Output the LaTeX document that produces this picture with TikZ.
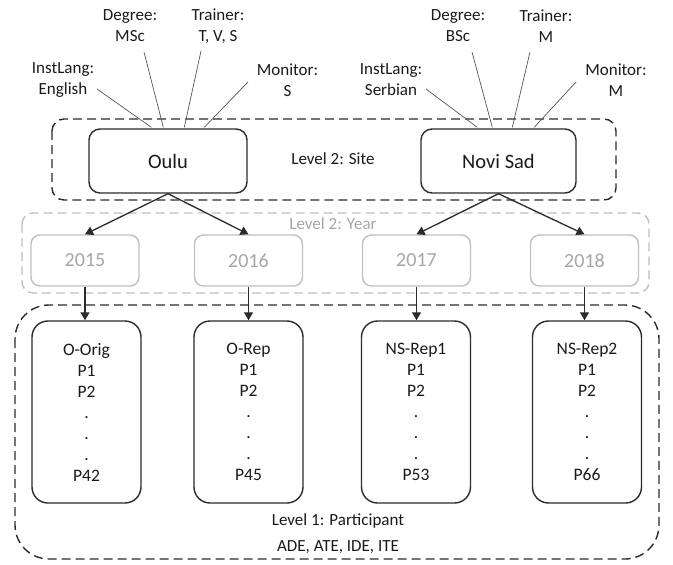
\documentclass[tikz,border=0pt]{standalone}
\usepackage{fontspec}
\setmainfont{Carlito}
\usetikzlibrary{arrows.meta,calc}
\definecolor{ink}{HTML}{2B2B2B}
\definecolor{txt}{HTML}{1A1A1A}
\definecolor{pale}{HTML}{BFBFBF}
\definecolor{paletext}{HTML}{A6A6A6}
\tikzset{
  lbl/.style={text=txt,align=center,font=\fontsize{17}{21}\selectfont,inner sep=0pt},
  sitebox/.style={draw=ink,line width=1.4pt,rounded corners=11pt,minimum height=64pt,
    text=txt,font=\fontsize{20.5}{24}\selectfont},
  yearbox/.style={draw=pale,line width=1.4pt,rounded corners=9pt,minimum width=108pt,
    minimum height=51pt,text=paletext,font=\fontsize{20}{24}\selectfont},
  partbox/.style={draw=ink,line width=1.4pt,rounded corners=16pt,minimum width=109pt,
    minimum height=182pt,text=txt,align=center,font=\fontsize{17.5}{21}\selectfont},
  group/.style={draw=ink,line width=1.4pt,dash pattern=on 9pt off 5pt},
  pgroup/.style={draw=pale,line width=1.4pt,dash pattern=on 9pt off 5pt},
  attr/.style={draw=ink!80,line width=0.7pt},
  flow/.style={draw=ink,line width=1.3pt,-{Triangle[length=8pt,width=9pt]}},
}
\begin{document}
\begin{tikzpicture}[x=1pt,y=-1pt]
\useasboundingbox (0,0) rectangle (673,565);

% group frames
\draw[group,rounded corners=12pt] (52,119) rectangle (616,200);
\draw[pgroup,rounded corners=11pt] (22,213) rectangle (649,293);
\draw[group,rounded corners=34pt] (15,305) rectangle (659,559);

% level 2: site
\node[sitebox,minimum width=158pt] (oulu) at (168,161) {Oulu};
\node[sitebox,minimum width=155pt] (novi) at (498.5,161) {Novi Sad};
\node[lbl] (sitelbl) at (333,159) {Level 2: Site};

% site attributes
\node[lbl] (o-lang) at (63,80) {InstLang:\\English};
\node[lbl] (o-deg) at (130,26) {Degree:\\MSc};
\node[lbl] (o-tr) at (218,26) {Trainer:\\T, V, S};
\node[lbl] (o-mon) at (287.5,80) {Monitor:\\S};
\node[lbl] (n-lang) at (391,80) {InstLang:\\Serbian};
\node[lbl] (n-deg) at (458,26) {Degree:\\BSc};
\node[lbl] (n-tr) at (546,26) {Trainer:\\M};
\node[lbl] (n-mon) at (616,80) {Monitor:\\M};

\coordinate (o-lang-e) at (97,89);
\coordinate (o-deg-e) at (144,52);
\coordinate (o-tr-e) at (201,51);
\coordinate (o-mon-e) at (248,82);
\coordinate (n-lang-e) at (426,89);
\coordinate (n-deg-e) at (472,52);
\coordinate (n-tr-e) at (530,52);
\coordinate (n-mon-e) at (576,82);

\draw[attr] (o-lang-e) -- ($(oulu.north west)+(63,-1)$);
\draw[attr] (o-deg-e) -- ($(oulu.north west)+(75,-1)$);
\draw[attr] (o-tr-e) -- ($(oulu.north west)+(96,-1)$);
\draw[attr] (o-mon-e) -- ($(oulu.north west)+(116,-1)$);
\draw[attr] (n-lang-e) -- ($(novi.north west)+(57,-1)$);
\draw[attr] (n-deg-e) -- ($(novi.north west)+(72,-1)$);
\draw[attr] (n-tr-e) -- ($(novi.north west)+(92,-1)$);
\draw[attr] (n-mon-e) -- ($(novi.north west)+(114,-1)$);

% level 2: year
\node[lbl,text=paletext] (yearlbl) at (333,224) {Level 2: Year};
\node[yearbox] (y15) at (85,260.5) {2015};
\node[yearbox] (y16) at (248.5,260.5) {2016};
\node[yearbox] (y17) at (416.5,260.5) {2017};
\node[yearbox] (y18) at (584.5,260.5) {2018};

% level 1: participant
\node[partbox] (p1) at (86.5,412) {O-Orig\\P1\\P2\\.\\.\\.\\P42};
\node[partbox] (p2) at (248.5,412) {O-Rep\\P1\\P2\\.\\.\\.\\P45};
\node[partbox] (p3) at (416,412) {NS-Rep1\\P1\\P2\\.\\.\\.\\P53};
\node[partbox] (p4) at (587,412) {NS-Rep2\\P1\\P2\\.\\.\\.\\P66};
\node[lbl] (partlbl) at (338,521) {Level 1: Participant};
\node[lbl] (outlbl) at (338,547) {ADE, ATE, IDE, ITE};

% connectors
\draw[flow] (oulu.south) -- (y15.north);
\draw[flow] (oulu.south) -- (y16.north);
\draw[flow] (novi.south) -- (y17.north);
\draw[flow] (novi.south) -- (y18.north);
\draw[flow] (y15.south) -- (y15.south |- p1.north);
\draw[flow] (y16.south) -- (y16.south |- p2.north);
\draw[flow] (y17.south) -- (y17.south |- p3.north);
\draw[flow] (y18.south) -- (y18.south |- p4.north);
\end{tikzpicture}
\end{document}
